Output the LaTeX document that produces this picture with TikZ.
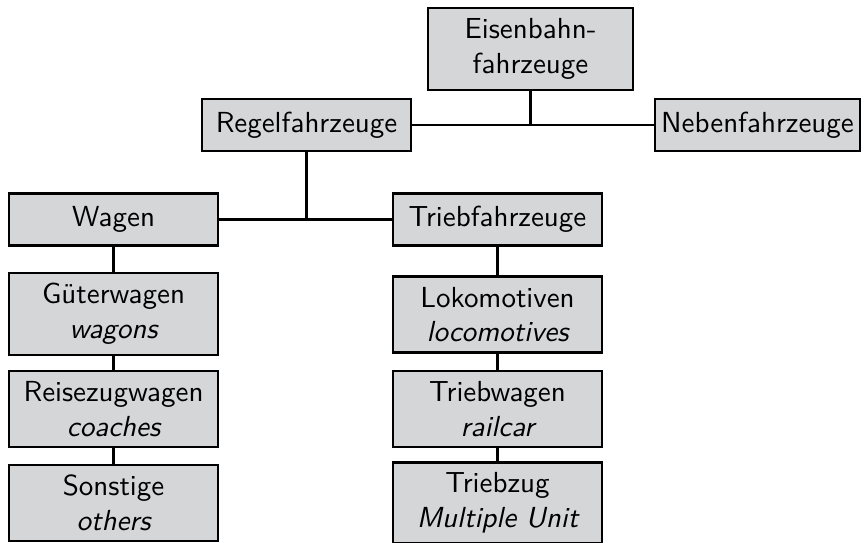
\documentclass[tikz,border=0pt]{standalone}
\usepackage{tikz}
\definecolor{boxgray}{RGB}{212,214,216}
\tikzset{
  box/.style={draw=black, fill=boxgray, line width=0.8pt, font=\sffamily,
    align=center, inner xsep=2pt, inner ysep=1pt,
    minimum width=2.54cm, minimum height=0.63cm},
  tallbox/.style={box, minimum height=0.92cm},
  link/.style={line width=0.8pt, draw=black},
}

\begin{document}
\begin{tikzpicture}
\useasboundingbox (0,0) rectangle (10.472,6.581);
\node[tallbox, minimum width=2.485cm, minimum height=0.994cm] (eisen) at (6.430,5.987) {Eisenbahn-\\fahrzeuge};
\node[box] (regel) at (3.715,5.063) {Regelfahrzeuge};
\node[box, minimum width=2.485cm] (neben) at (9.181,5.063) {Nebenfahrzeuge};
\node[box] (wagen) at (1.376,3.921) {Wagen};
\node[box] (trieb) at (6.030,3.921) {Triebfahrzeuge};
\node[tallbox, minimum height=0.994cm] (gueter) at (1.376,2.775) {Güterwagen\\\itshape wagons};
\node[tallbox] (reise) at (1.376,1.624) {Reisezugwagen\\\itshape coaches};
\node[tallbox] (sonst) at (1.376,0.485) {Sonstige\\\itshape others};
\node[tallbox] (loko) at (6.030,2.769) {Lokomotiven\\\itshape locomotives};
\node[tallbox] (triebw) at (6.030,1.624) {Triebwagen\\\itshape railcar};
\node[tallbox, minimum height=0.98cm] (triebzug) at (6.030,0.485) {Triebzug\\\itshape Multiple Unit};
\draw[link] (regel) -- (neben);
\draw[link] (eisen) -- (eisen |- regel);
\draw[link] (wagen) -- (trieb);
\draw[link] (regel) -- (regel |- wagen);
\draw[link] (wagen) -- (gueter);
\draw[link] (gueter) -- (reise);
\draw[link] (reise) -- (sonst);
\draw[link] (trieb) -- (loko);
\draw[link] (loko) -- (triebw);
\draw[link] (triebw) -- (triebzug);
\end{tikzpicture}
\end{document}
